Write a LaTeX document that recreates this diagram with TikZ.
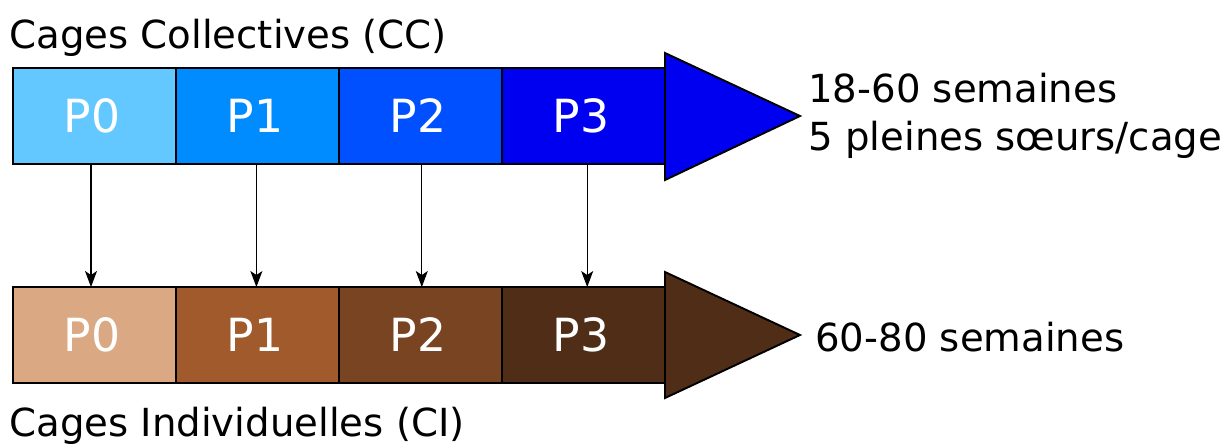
\documentclass[tikz,border=0pt]{standalone}
\usepackage{fontspec}
\setmainfont{DejaVu Sans}
\usetikzlibrary{arrows.meta}

\definecolor{ccP0}{HTML}{62C8FF}
\definecolor{ccP1}{HTML}{008CFF}
\definecolor{ccP2}{HTML}{0050FF}
\definecolor{ccP3}{HTML}{0000F0}
\definecolor{ciP0}{HTML}{DBA884}
\definecolor{ciP1}{HTML}{A05A2C}
\definecolor{ciP2}{HTML}{784421}
\definecolor{ciP3}{HTML}{502D16}

\tikzset{
  phase/.style={draw, line width=1.1pt, minimum width=3.26cm, minimum height=1.92cm,
    inner sep=0, outer sep=0, text=white, font=\fontsize{26}{31}\selectfont},
  label/.style={inner sep=0, font=\fontsize{22}{27}\selectfont, align=left},
  head/.style={draw, line width=1.1pt, line join=miter}
}

\begin{document}
\begin{tikzpicture}[x=0.02cm, y=-0.02cm]
      \useasboundingbox (0, 0) rectangle (1223, 444);
      \foreach \i in {0, 1, 2, 3} {
        \pgfmathsetmacro\xpos{94.5 + 163 * \i};
        \pgfmathsetmacro\xarr{91 + 165.4 * \i};
        \node [phase, fill=ccP\i] (cc\i) at (\xpos, 116) {\hspace{-3pt}P\i};
        \node [phase, fill=ciP\i] (ci\i) at (\xpos, 335) {\hspace{-3pt}P\i};
        \draw [-{Stealth[length=3.2mm, width=2.4mm, inset=0.8mm]}, line width=0.6pt]
          (cc\i.south -| \xarr, 0) -- (ci\i.north -| \xarr, 0);
      }
      \draw [head, fill=ccP3] (cc3.east |- 0, 53) -- (800, 116) -- (cc3.east |- 0, 180) -- cycle;
      \draw [head, fill=ciP3] (ci3.east |- 0, 272) -- (800, 335) -- (ci3.east |- 0, 398) -- cycle;
      \node [label, anchor=base west] (cctitle) at (9, 48) {Cages Collectives (CC)};
      \node [label, anchor=base west] (cititle) at (9, 436) {Cages Individuelles (CI)};
      \node [label, anchor=west] (ccspan) at (808, 116) {18-60 semaines\\5 pleines sœurs/cage};
      \node [label, anchor=west] (cispan) at (815, 337) {60-80 semaines};
    \end{tikzpicture}
\end{document}
